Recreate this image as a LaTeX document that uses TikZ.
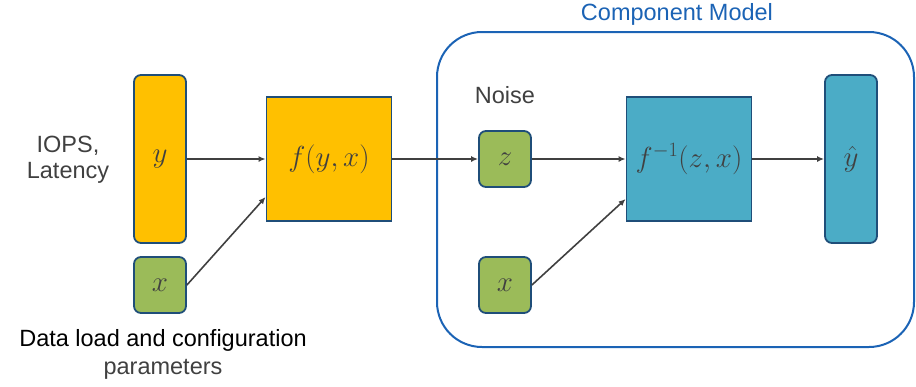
\RequirePackage{fix-cm}
\documentclass[tikz,border=0pt]{standalone}
\usepackage{fontspec}
\setmainfont{Liberation Sans}
\usetikzlibrary{arrows.meta}
\definecolor{boxyellow}{HTML}{FFC000}
\definecolor{boxgreen}{HTML}{9BBB59}
\definecolor{boxteal}{HTML}{4BACC6}
\definecolor{boxborder}{HTML}{1F4E79}
\definecolor{modelblue}{HTML}{1B63B5}
\definecolor{darkgray}{HTML}{404040}
\begin{document}
\begin{tikzpicture}[x = 1pt, y = -1pt,
        every node/.style={draw=boxborder, line width=1.8pt, inner sep=0pt, text=darkgray,
                           font=\fontsize{29}{33}\selectfont},
        var/.style={rounded corners=7pt, minimum width=52pt},
        func/.style={minimum width=125pt, minimum height=124pt},
        caption/.style={draw=none, font=\fontsize{23.5}{28}\selectfont, align=center},
        flow/.style={-{Latex[length=7pt,width=6pt]}, line width=1.6pt, draw=darkgray}
]
    \useasboundingbox (0,0) rectangle (916,386);
    % component model frame
    \draw[modelblue, line width=2pt, rounded corners=45pt] (437,32) rectangle (914,347);
    \node[caption, text=modelblue] (model) at (677,14) {Component Model};

    % inputs
    \node[var, fill=boxyellow, minimum height=168pt] (y) at (160,159) {$y$};
    \node[var, fill=boxgreen, minimum height=56pt] (x) at (160,285) {$x$};
    \node[func, fill=boxyellow] (f) at (329,159) {$f(y,x)$};
    \node[caption] (obs) at (68,160) {IOPS,\\[-2pt]Latency};
    \node[caption, text=black] (cfg) at (163,340) {Data load and configuration};
    \node[caption] (params) at (163,369) {parameters};

    % model side
    \node[caption] (noise) at (505,95) {Noise};
    \node[var, fill=boxgreen, minimum height=56pt] (z) at (505,159) {$z$};
    \node[var, fill=boxgreen, minimum height=56pt] (xm) at (505,285) {$x$};
    \node[func, fill=boxteal] (finv) at (689,159) {$f^{-1}(z,x)$};
    \node[var, fill=boxteal, minimum height=168pt] (yhat) at (851,159) {$\hat{y}$};

    \draw[flow] (y) -- (f);
    \draw[flow] (x.east) -- ([yshift=-38pt]f.west);
    \draw[flow] (f) -- (z);
    \draw[flow] (z) -- (finv);
    \draw[flow] (xm.east) -- ([yshift=-40pt]finv.west);
    \draw[flow] (finv) -- (yhat);

\end{tikzpicture}
\end{document}
